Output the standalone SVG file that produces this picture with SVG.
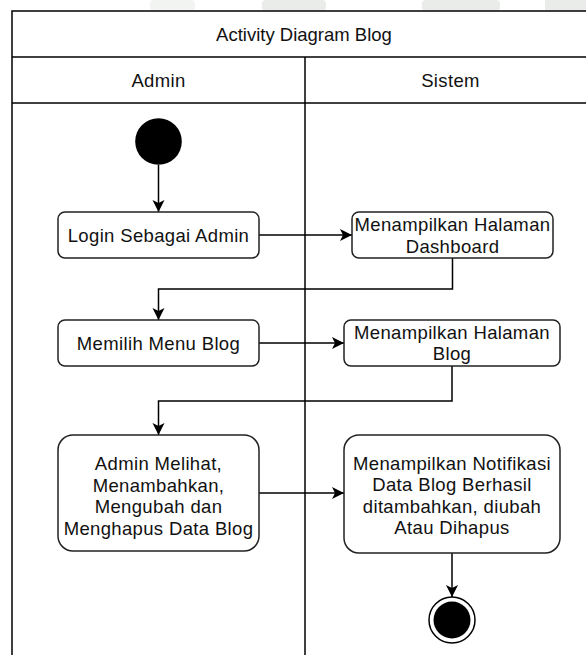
<svg xmlns="http://www.w3.org/2000/svg" width="586" height="655" viewBox="0 0 586 655">
  <style>
    .lane { fill: #ffffff; stroke: #000000; stroke-width: 1.5; }
    .act { fill: #ffffff; stroke: #222222; stroke-width: 1.5; }
    .lbl { font-family: "Liberation Sans", Arial, sans-serif; font-size: 18.5px; fill: #111111; text-anchor: middle; }
    .txt { letter-spacing: 0.35px; }
    .flow { fill: none; stroke: #000000; stroke-width: 1.5; marker-end: url(#arrow); }
    .wm { fill: #e9ece9; }
  </style>
  <defs>
    <marker id="arrow" markerUnits="userSpaceOnUse" markerWidth="14" markerHeight="14" refX="12" refY="6" orient="auto">
      <path d="M0,0 L12,6 L0,12 L3,6 Z" fill="#000000"/>
    </marker>
  </defs>

  <rect width="586" height="655" fill="#ffffff"/>

  <!-- faint background marks above the frame -->
  <g id="background-marks">
    <rect class="wm" x="150" y="0" width="45" height="11" rx="4" opacity="0.6"/>
    <rect class="wm" x="262" y="0" width="64" height="11" rx="4"/>
    <rect class="wm" x="422" y="0" width="78" height="11" rx="4"/>
    <rect class="wm" x="545" y="0" width="41" height="11"/>
  </g>

  <!-- swimlane frame -->
  <g id="pool">
    <rect class="lane" x="12" y="11" width="584" height="670"/>
    <line x1="12" y1="57" x2="596" y2="57" stroke="#000" stroke-width="1.5"/>
    <line x1="12" y1="103" x2="596" y2="103" stroke="#000" stroke-width="1.5"/>
    <line x1="305" y1="57" x2="305" y2="681" stroke="#000" stroke-width="1.5"/>
    <text class="lbl" x="304" y="41">Activity Diagram Blog</text>
  </g>
  <g id="lane-admin">
    <text class="lbl txt" x="158.5" y="86.5">Admin</text>
  </g>
  <g id="lane-sistem">
    <text class="lbl txt" x="450.5" y="86.5">Sistem</text>
  </g>

  <!-- connectors -->
  <g id="connectors">
    <path class="flow" d="M158.5,165 V212"/>
    <path class="flow" d="M259,235 H352"/>
    <path class="flow" d="M452.5,258 V289 H158.5 V320"/>
    <path class="flow" d="M259,343 H344"/>
    <path class="flow" d="M452,366 V401 H158.5 V435"/>
    <path class="flow" d="M259,493 H344"/>
    <path class="flow" d="M452,553 V597"/>
  </g>

  <!-- nodes -->
  <g id="start">
    <circle cx="158.5" cy="141.5" r="23.3" fill="#000000"/>
  </g>

  <g id="login">
    <rect class="act" x="58" y="212" width="201" height="46" rx="7"/>
    <text class="lbl txt" x="158.5" y="241.7">Login Sebagai Admin</text>
  </g>

  <g id="dashboard">
    <rect class="act" x="352" y="212" width="201" height="46" rx="7"/>
    <text class="lbl txt" x="452.5" y="231">Menampilkan Halaman</text>
    <text class="lbl txt" x="452.5" y="252.7">Dashboard</text>
  </g>

  <g id="pilih-menu">
    <rect class="act" x="58" y="320" width="201" height="46" rx="7"/>
    <text class="lbl txt" x="158.5" y="350">Memilih Menu Blog</text>
  </g>

  <g id="halaman-blog">
    <rect class="act" x="344" y="320" width="216" height="46" rx="7"/>
    <text class="lbl txt" x="452" y="338.5">Menampilkan Halaman</text>
    <text class="lbl txt" x="452" y="360">Blog</text>
  </g>

  <g id="kelola-data">
    <rect class="act" x="58" y="435" width="201" height="116" rx="15"/>
    <text class="lbl txt" x="158.5" y="470">Admin Melihat,</text>
    <text class="lbl txt" x="158.5" y="491.6">Menambahkan,</text>
    <text class="lbl txt" x="158.5" y="513.2">Mengubah dan</text>
    <text class="lbl txt" x="158.5" y="534.8">Menghapus Data Blog</text>
  </g>

  <g id="notifikasi">
    <rect class="act" x="344" y="435" width="216" height="118" rx="15"/>
    <text class="lbl txt" x="452" y="469.5">Menampilkan Notifikasi</text>
    <text class="lbl txt" x="452" y="491">Data Blog Berhasil</text>
    <text class="lbl txt" x="452" y="512.7">ditambahkan, diubah</text>
    <text class="lbl txt" x="452" y="534.3">Atau Dihapus</text>
  </g>

  <g id="end">
    <circle cx="452" cy="620" r="23" fill="#ffffff" stroke="#000000" stroke-width="1.5"/>
    <circle cx="452" cy="620" r="18.5" fill="#000000"/>
  </g>
</svg>
